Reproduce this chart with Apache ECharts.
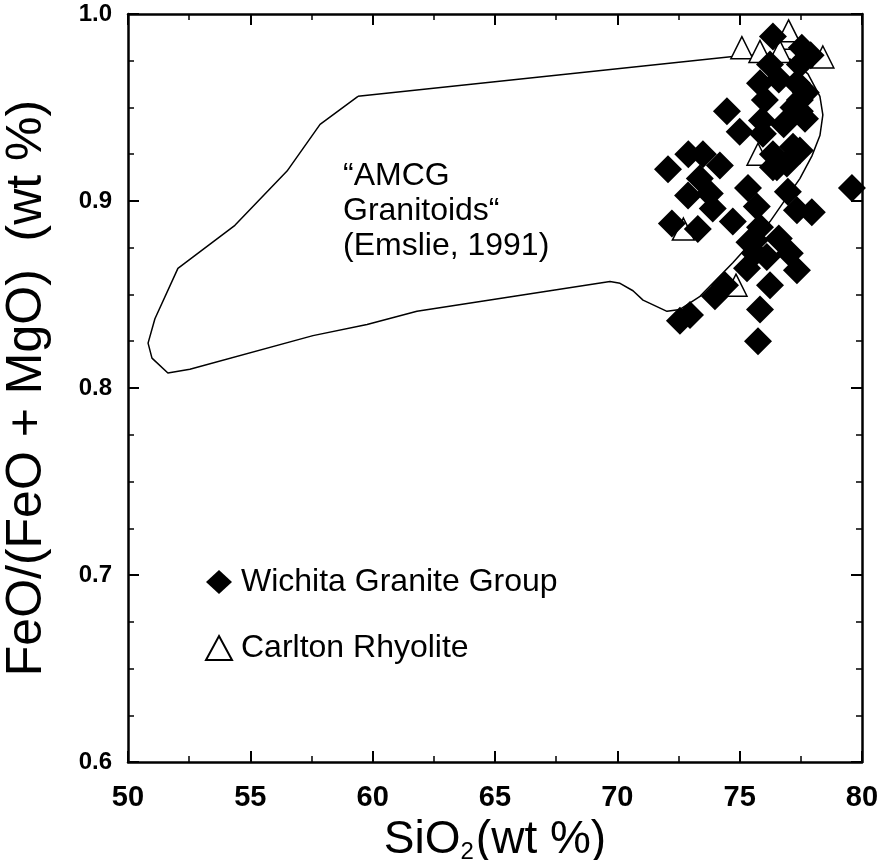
<!DOCTYPE html>
<html>
<head>
<meta charset="utf-8">
<script src="https://cdn.jsdelivr.net/npm/echarts@6/dist/echarts.min.js"></script>
<style>
  html, body { margin: 0; padding: 0; background: #fff; }
  #chart { width: 877px; height: 860px; }
</style>
</head>
<body>
<div id="chart"></div>
<script>
// Wichita Granite Group (SiO2, FeO/(FeO+MgO))
var wichitaX = [76.36, 77.54, 76.24, 77.46, 75.83, 77.34, 74.48, 76.03, 75.91, 77.46,
                77.67, 75.00, 79.59, 74.19, 75.34, 76.93, 77.18, 76.36, 76.97, 77.95,
                77.34, 75.83, 75.62, 77.05, 75.95, 72.07, 72.90, 73.50, 72.89, 73.78,
                72.23, 73.29, 74.72, 75.62, 73.37, 73.90, 72.56, 72.97, 73.99, 74.40,
                75.83, 75.75, 76.24, 75.30, 76.11, 77.34, 76.36, 77.46, 77.46, 76.52,
                77.70, 77.20, 76.60, 77.90, 76.80, 75.70, 76.60, 75.40];
var wichitaY = [0.988, 0.982, 0.973, 0.973, 0.963, 0.963, 0.948, 0.954, 0.943, 0.954,
                0.944, 0.937, 0.907, 0.919, 0.907, 0.920, 0.929, 0.918, 0.905, 0.894,
                0.895, 0.886, 0.879, 0.872, 0.936, 0.917, 0.925, 0.925, 0.903, 0.904,
                0.888, 0.885, 0.889, 0.872, 0.912, 0.896, 0.836, 0.839, 0.849, 0.855,
                0.842, 0.825, 0.855, 0.864, 0.870, 0.863, 0.925, 0.948, 0.927, 0.918,
                0.958, 0.950, 0.965, 0.978, 0.941, 0.897, 0.880, 0.878];

// Carlton Rhyolite
var carltonX = [75.09, 75.83, 76.93, 76.64, 78.40, 75.75, 74.85, 72.70, 77.00];
var carltonY = [0.982, 0.980, 0.987, 0.980, 0.977, 0.925, 0.855, 0.885, 0.991];

// AMCG granitoids field (Emslie, 1991) outline
var amcgX = [59.40, 75.21, 76.03, 77.05, 77.79, 78.28, 78.40, 78.28, 77.95, 77.46,
             76.24, 74.72, 73.38, 72.56, 72.03, 71.05, 70.64, 70.11, 69.70, 61.81,
             59.77, 57.56, 52.53, 51.63, 50.98, 50.82, 51.10, 52.04, 54.37, 56.50,
             57.85, 59.40];
var amcgY = [0.956, 0.978, 0.978, 0.976, 0.968, 0.956, 0.946, 0.935, 0.924, 0.912,
             0.889, 0.867, 0.849, 0.842, 0.841, 0.847, 0.852, 0.856, 0.857, 0.841,
             0.834, 0.828, 0.810, 0.808, 0.816, 0.824, 0.837, 0.864, 0.887, 0.916,
             0.941, 0.956];

function pairs(xs, ys) {
  var out = [];
  for (var i = 0; i < xs.length; i++) out.push([xs[i], ys[i]]);
  return out;
}

var sans = "'Liberation Sans', Arial, sans-serif";
var narrow = "'Liberation Sans Narrow', 'Liberation Sans', Arial, sans-serif";

var tickStyle = { show: true, inside: true, length: 11, lineStyle: { color: '#000', width: 2 } };
var minorStyle = { length: 6, lineStyle: { color: '#000', width: 1.5 } };
var lineStyleAxis = { show: true, onZero: false, lineStyle: { color: '#000', width: 2.5 } };

var chart = echarts.init(document.getElementById('chart'));
var option = {
  backgroundColor: '#fff',
  animation: false,
  grid: { left: 128, right: 15, top: 14, bottom: 98, outerBoundsMode: 'none', containLabel: false },
  legend: {
    orient: 'vertical',
    left: 200,
    top: 561,
    itemWidth: 26,
    itemHeight: 24,
    itemGap: 34,
    textStyle: { fontFamily: sans, fontSize: 32, color: '#000', padding: [0, 0, 0, 4] },
    data: ['Wichita Granite Group', 'Carlton Rhyolite']
  },
  graphic: [{
    type: 'text',
    left: 343,
    top: 159,
    style: {
      text: '\u201CAMCG\nGranitoids\u201C\n(Emslie, 1991)',
      font: '32px ' + sans,
      lineHeight: 35,
      fill: '#000'
    }
  }],
  xAxis: [{
    type: 'value',
    min: 50, max: 80, interval: 5,
    position: 'bottom',
    name: 'SiO{sub|2}(wt %)',
    nameLocation: 'middle',
    nameGap: 50,
    nameTextStyle: {
      fontFamily: sans, fontSize: 46, color: '#000',
      rich: { sub: { fontFamily: sans, fontSize: 24, color: '#000', verticalAlign: 'bottom', padding: [24, 2, 0, 0] } }
    },
    axisLine: lineStyleAxis,
    axisTick: tickStyle,
    minorTick: Object.assign({ show: true, splitNumber: 2 }, minorStyle),
    splitLine: { show: false },
    axisLabel: { fontFamily: narrow, fontWeight: 'bold', fontSize: 29, color: '#000', margin: 21 }
  }, {
    type: 'value',
    min: 50, max: 80, interval: 5,
    position: 'top',
    axisLine: lineStyleAxis,
    axisTick: tickStyle,
    minorTick: Object.assign({ show: true, splitNumber: 2 }, minorStyle),
    splitLine: { show: false },
    axisLabel: { show: false }
  }],
  yAxis: [{
    type: 'value',
    min: 0.6, max: 1.0, interval: 0.1,
    position: 'left',
    name: 'FeO/(FeO + MgO)  (wt %)',
    nameLocation: 'middle',
    nameGap: 76,
    nameTextStyle: { fontFamily: sans, fontSize: 50, color: '#000' },
    axisLine: lineStyleAxis,
    axisTick: tickStyle,
    minorTick: Object.assign({ show: true, splitNumber: 4 }, minorStyle),
    splitLine: { show: false },
    axisLabel: {
      fontFamily: sans, fontWeight: 'bold', fontSize: 24, color: '#000', margin: 16,
      formatter: function (v) { return v.toFixed(1); }
    }
  }, {
    type: 'value',
    min: 0.6, max: 1.0, interval: 0.1,
    position: 'right',
    axisLine: lineStyleAxis,
    axisTick: tickStyle,
    minorTick: Object.assign({ show: true, splitNumber: 4 }, minorStyle),
    splitLine: { show: false },
    axisLabel: { show: false }
  }],
  series: [{
    name: 'AMCG',
    type: 'line',
    data: pairs(amcgX, amcgY),
    showSymbol: false,
    symbol: 'none',
    lineStyle: { color: '#000', width: 1.5 },
    z: 1
  }, {
    name: 'Carlton Rhyolite',
    type: 'scatter',
    data: pairs(carltonX, carltonY),
    symbol: 'triangle',
    symbolSize: 22,
    itemStyle: { color: '#fff', borderColor: '#000', borderWidth: 1.5, opacity: 1 },
    z: 2
  }, {
    name: 'Wichita Granite Group',
    type: 'scatter',
    data: pairs(wichitaX, wichitaY),
    symbol: 'diamond',
    symbolSize: 28,
    itemStyle: { color: '#000', opacity: 1 },
    z: 3
  }]
};
chart.setOption(option);
</script>
</body>
</html>
